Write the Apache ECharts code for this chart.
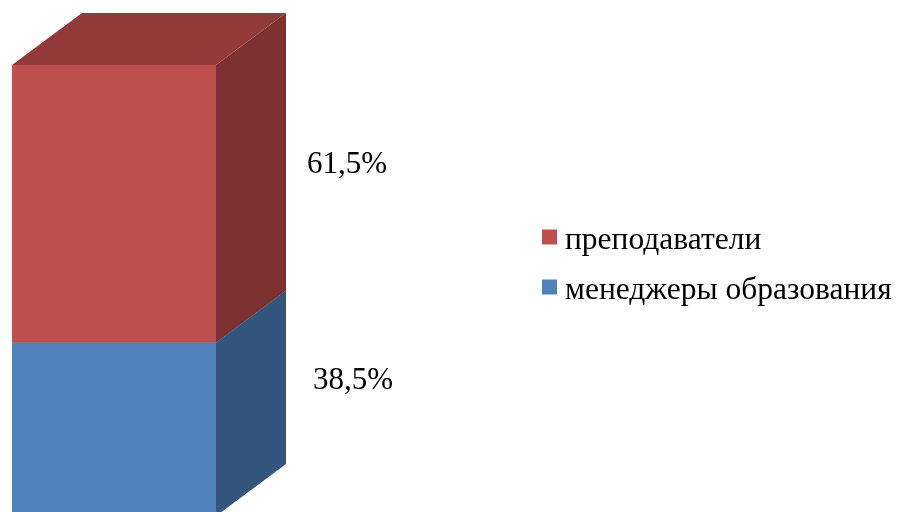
<!DOCTYPE html>
<html>
<head>
<meta charset="utf-8">
<script src="https://cdn.jsdelivr.net/npm/echarts@6/dist/echarts.min.js"></script>
<style>
html,body{margin:0;padding:0;background:#fff;}
#chart{width:899px;height:512px;}
</style>
</head>
<body>
<div id="chart"></div>
<script>
// Data
const categories = ['Итого'];
const seriesNames = ['менеджеры образования', 'преподаватели'];
const managersValues = [38.5];
const teachersValues = [61.5];
const valueLabels = ['38,5%', '61,5%'];

const palettes = [
  { front: '#4F81BD', side: '#34557C', top: '#3F6799' },
  { front: '#C0504D', side: '#7D3131', top: '#913A39' }
];
const DX = 70, DY = 52;

const chart = echarts.init(document.getElementById('chart'));

function makeRender(sIdx, labelOffset) {
  return function (params, api) {
    const cat = api.value(0);
    const start = api.value(1);
    const end = api.value(2);
    const p0 = api.coord([cat, start]);
    const p1 = api.coord([cat, end]);
    const w = api.size([1, 0])[0];
    const x0 = p0[0] - w / 2, x1 = p0[0] + w / 2;
    const yb = p0[1], yt = p1[1];
    const pal = palettes[sIdx];
    const children = [
      { type: 'polygon', shape: { points: [[x0, yb], [x1, yb], [x1, yt], [x0, yt]] }, style: { fill: pal.front } },
      { type: 'polygon', shape: { points: [[x1, yb], [x1 + DX, yb - DY], [x1 + DX, yt - DY], [x1, yt]] }, style: { fill: pal.side } },
      { type: 'polygon', shape: { points: [[x0, yt], [x1, yt], [x1 + DX, yt - DY], [x0 + DX, yt - DY]] }, style: { fill: pal.top } },
      { type: 'text', x: x1 + DX + labelOffset[0], y: (yb + yt) / 2 - DY / 2 + labelOffset[1],
        style: { text: valueLabels[sIdx], fill: '#000', font: '31px "Liberation Serif"', textAlign: 'left', textVerticalAlign: 'middle' } }
    ];
    return { type: 'group', children: children };
  };
}

const managersData = categories.map((c, i) => [i, 0, managersValues[i]]);
const teachersData = categories.map((c, i) => [i, managersValues[i], managersValues[i] + teachersValues[i]]);

chart.setOption({
  animation: false,
  grid: { left: 12, top: 65, width: 204, bottom: 0, containLabel: false },
  xAxis: { type: 'category', data: categories, show: false },
  yAxis: { type: 'value', min: 0.9, max: 100, show: false },
  legend: {
    data: [seriesNames[1], seriesNames[0]],
    orient: 'vertical',
    left: 542, top: 225, padding: 0,
    icon: 'path://M0,0L15,0L15,15L0,15Z M0,23L0.01,23L0,23Z',
    itemWidth: 15, itemHeight: 23, itemGap: 18,
    textStyle: { fontFamily: 'Liberation Serif', fontSize: 31.5, color: '#000', padding: [0, 0, 0, 3] }
  },
  series: [
    { name: seriesNames[0], type: 'custom', data: managersData,
      itemStyle: { color: palettes[0].front }, encode: { x: 0, y: [1, 2] }, renderItem: makeRender(0, [27, -22]) },
    { name: seriesNames[1], type: 'custom', data: teachersData,
      itemStyle: { color: palettes[1].front }, encode: { x: 0, y: [1, 2] }, renderItem: makeRender(1, [21, -13]) }
  ]
});
</script>
</body>
</html>
